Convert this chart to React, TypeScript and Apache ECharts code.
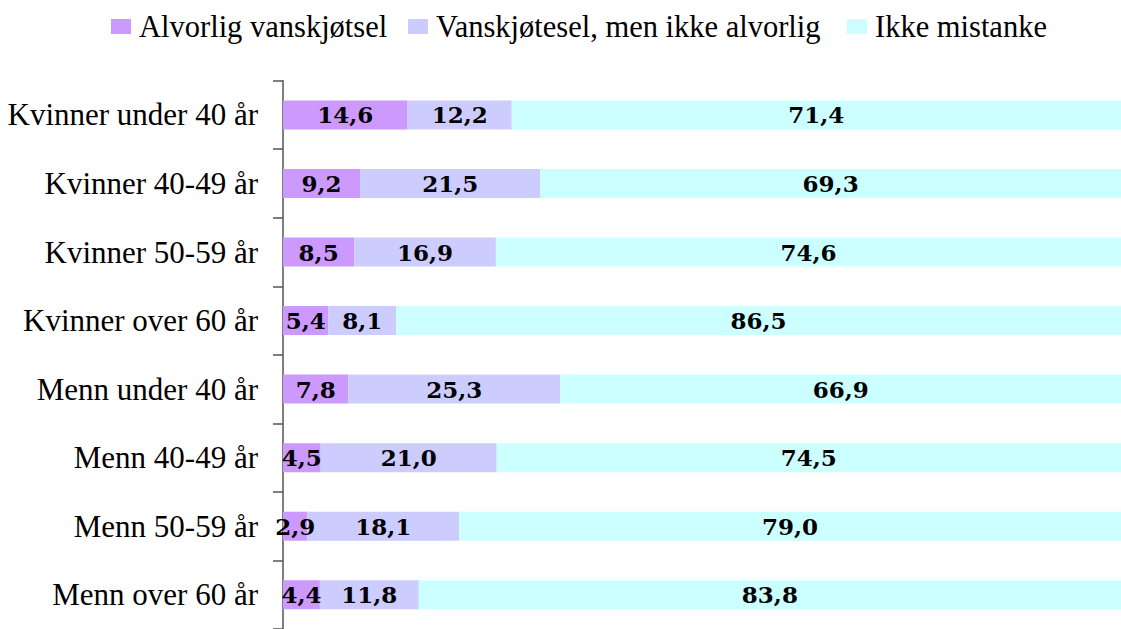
import React, { useEffect, useRef } from "react";
import * as echarts from "echarts";

const categories = [
  "Kvinner under 40 år",
  "Kvinner 40-49 år",
  "Kvinner 50-59 år",
  "Kvinner over 60 år",
  "Menn under 40 år",
  "Menn 40-49 år",
  "Menn 50-59 år",
  "Menn over 60 år",
];

const seriesNames = [
  "Alvorlig vanskjøtsel",
  "Vanskjøtesel, men ikke alvorlig",
  "Ikke mistanke",
];

const alvorlig = [14.6, 9.2, 8.5, 5.4, 7.8, 4.5, 2.9, 4.4];
const vanskjotsel = [12.2, 21.5, 16.9, 8.1, 25.3, 21.0, 18.1, 11.8];
const ikkeMistanke = [71.4, 69.3, 74.6, 86.5, 66.9, 74.5, 79.0, 83.8];

const colors = ["#CC99FF", "#CCCCFF", "#CCFFFF"];
const legendLefts = [111, 408, 847];

export default function App() {
  const ref = useRef<HTMLDivElement>(null);

  useEffect(() => {
    if (!ref.current) return;
    const chart = echarts.init(ref.current, undefined, { renderer: "svg" });
    const raw = [alvorlig, vanskjotsel, ikkeMistanke];
    const totals = categories.map((_, i) => raw.reduce((s, arr) => s + arr[i], 0));

    const series = raw.map((arr, si) => ({
      name: seriesNames[si],
      type: "bar",
      stack: "total",
      barWidth: 29,
      itemStyle: { color: colors[si] },
      emphasis: { disabled: true },
      label: {
        show: true,
        position: "inside",
        color: "#000",
        fontFamily: "DejaVu Serif",
        fontWeight: "bold",
        fontSize: 23,
        formatter: (p: any) => arr[p.dataIndex].toFixed(1).replace(".", ","),
      },
      data: arr.map((v, i) => (v / totals[i]) * 100),
    }));

    const legends = seriesNames.map((name, i) => ({
      data: [name],
      left: legendLefts[i],
      top: 11,
      padding: 0,
      icon: "rect",
      itemWidth: 20,
      itemHeight: 15,
      textStyle: {
        fontFamily: "Liberation Serif",
        fontSize: 30.5,
        color: "#000",
        padding: [0, 0, 0, 3],
      },
      selectedMode: false,
    }));

    chart.setOption({
      animation: false,
      legend: legends,
      grid: {
        left: 283,
        top: 80.7,
        width: 840,
        height: 554.4,
        containLabel: false,
      },
      xAxis: {
        type: "value",
        min: 0,
        max: 100,
        show: false,
      },
      yAxis: {
        type: "category",
        inverse: true,
        data: categories,
        axisLine: { show: true, lineStyle: { color: "#555", width: 1.5 } },
        axisTick: { show: true, length: 10, lineStyle: { color: "#555", width: 1.5 } },
        axisLabel: {
          margin: 25,
          fontFamily: "Liberation Serif",
          fontSize: 31,
          color: "#000",
        },
      },
      series,
    });

    return () => chart.dispose();
  }, []);

  return (
    <div
      ref={ref}
      style={{ position: "absolute", left: 0, top: 0, width: 1121, height: 629, background: "#fff" }}
    />
  );
}
